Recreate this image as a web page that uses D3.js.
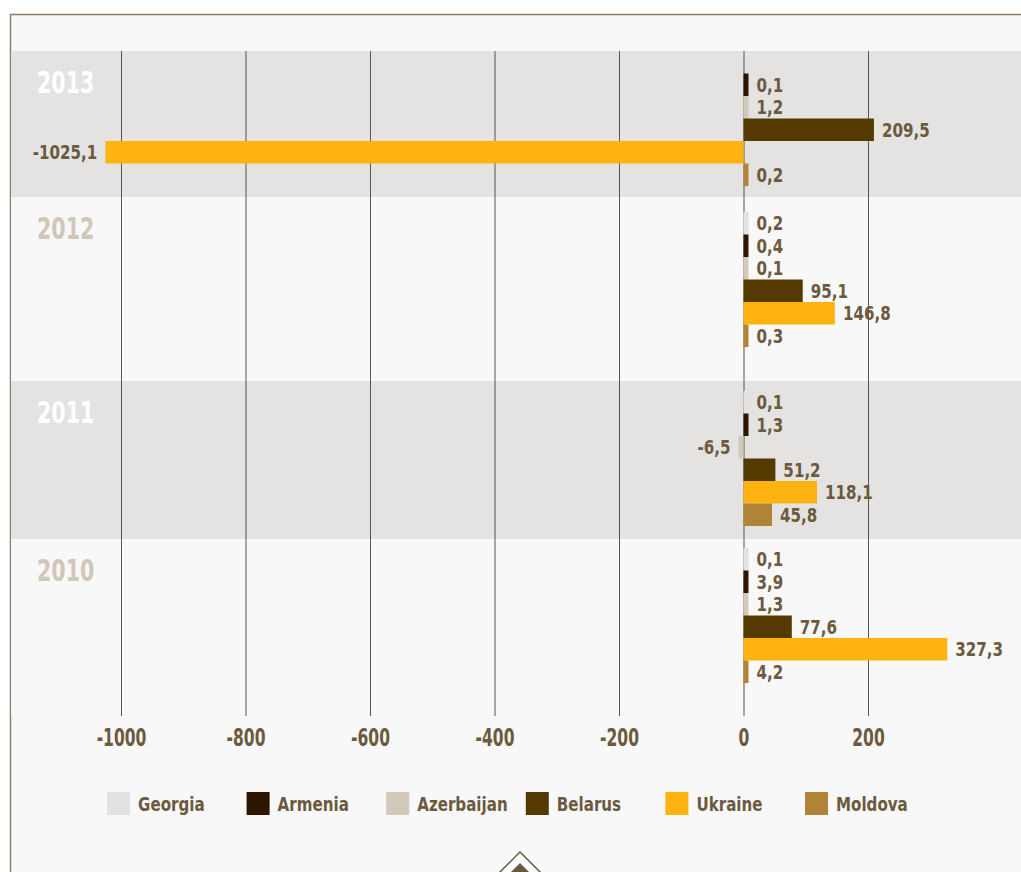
<!DOCTYPE html>
<html>
<head>
<meta charset="utf-8">
<script src="https://cdn.jsdelivr.net/npm/d3@7"></script>
<style>
  html, body { margin: 0; padding: 0; background: #ffffff; }
  svg { display: block; }
  .lbl { font-family: "DejaVu Sans Condensed", "Liberation Sans Narrow", sans-serif; font-weight: bold; font-stretch: condensed; }
</style>
</head>
<body>
<div id="chart"></div>
<script>
// data
var years = ["2013", "2012", "2011", "2010"];
var countries = ["Georgia", "Armenia", "Azerbaijan", "Belarus", "Ukraine", "Moldova"];
var colors = ["#e3e2e0", "#2e1500", "#d3c9bb", "#553a00", "#ffb311", "#b08436"];
// one array per country, in the order of years
var georgia    = [null, 0.2, 0.1, 0.1];
var armenia    = [0.1, 0.4, 1.3, 3.9];
var azerbaijan = [1.2, 0.1, -6.5, 1.3];
var belarus    = [209.5, 95.1, 51.2, 77.6];
var ukraine    = [-1025.1, 146.8, 118.1, 327.3];
var moldova    = [0.2, 0.3, 45.8, 4.2];
var tickValues = [-1000, -800, -600, -400, -200, 0, 200];

var series = [georgia, armenia, azerbaijan, belarus, ukraine, moldova];

// layout
var W = 1021, H = 872;
var bandEdges = [51, 197, 381, 539, 716];   // background stripes per year
var groupTops = [51, 212, 391, 548];        // first bar slot of each year
var groupHeight = 135;
var textColor = "#6b5a3e";

var svg = d3.select("#chart").append("svg")
    .attr("width", W)
    .attr("height", H);

// frame
svg.append("rect")
    .attr("x", 10).attr("y", 14)
    .attr("width", W - 10).attr("height", H - 14)
    .attr("fill", "#f8f8f8");
svg.append("path")
    .attr("d", "M10.5," + H + "V14.5H" + W)
    .attr("fill", "none")
    .attr("stroke", "#8c7f68")
    .attr("stroke-width", 1.5);

var x = d3.scaleLinear().domain([-1000, 200]).range([121, 868]);
var yIn = d3.scaleBand().domain(countries).range([0, groupHeight]);

// squeezed text: the original face is a narrow grotesque
var label = function(sel, size, sx) {
    return sel.append("text")
        .attr("class", "lbl")
        .attr("transform", "scale(" + sx + ",1)")
        .style("font-size", size + "px");
};

// stripes
svg.append("g").selectAll("rect")
    .data(years)
    .join("rect")
    .attr("x", 11)
    .attr("y", function(d, i) { return bandEdges[i]; })
    .attr("width", W - 11)
    .attr("height", function(d, i) { return bandEdges[i + 1] - bandEdges[i]; })
    .attr("fill", function(d, i) { return i % 2 == 0 ? "#e4e3e1" : "#f8f8f8"; });

// grid lines + tick labels
var axis = d3.axisBottom(x)
    .tickValues(tickValues)
    .tickSize(bandEdges[4] - bandEdges[0])
    .tickPadding(13)
    .tickFormat(function(d) { return String(d); });
var gAxis = svg.append("g")
    .attr("transform", "translate(0," + bandEdges[0] + ")")
    .call(axis);
gAxis.select(".domain").remove();
gAxis.selectAll(".tick line").attr("stroke", "#555").attr("stroke-width", 1);
gAxis.selectAll(".tick text")
    .attr("class", "lbl")
    .attr("fill", textColor)
    .attr("transform", "scale(0.72,1)")
    .style("font-size", "24px");

// year labels
var yl = svg.append("g").selectAll("g")
    .data(years)
    .join("g")
    .attr("transform", function(d, i) { return "translate(37," + (bandEdges[i] + 42) + ")"; });
label(yl, 31, 0.74)
    .attr("fill", function(d, i) { return i % 2 == 0 ? "#ffffff" : "#d0c7b8"; })
    .text(function(d) { return d; });

// bars
var fmt = function(v) { return d3.format(".1f")(v).replace(".", ",").replace("−", "-"); };
var minW = 5;
var points = [];
years.forEach(function(yr, yi) {
    countries.forEach(function(c, ci) {
        var v = series[ci][yi];
        if (v == null) return;
        points.push({year: yr, yi: yi, country: c, ci: ci, value: v});
    });
});
var barW = function(d) { return Math.max(Math.abs(x(d.value) - x(0)), minW); };

var gBars = svg.append("g");
gBars.selectAll("rect")
    .data(points)
    .join("rect")
    .attr("x", function(d) { return d.value < 0 ? x(0) - barW(d) : x(0); })
    .attr("y", function(d) { return groupTops[d.yi] + yIn(d.country); })
    .attr("width", barW)
    .attr("height", yIn.bandwidth())
    .attr("fill", function(d) { return colors[d.ci]; });

var vl = gBars.selectAll("g")
    .data(points)
    .join("g")
    .attr("transform", function(d) {
        var tx = d.value < 0 ? x(0) - barW(d) - 8 : x(0) + barW(d) + 8;
        var ty = groupTops[d.yi] + yIn(d.country) + yIn.bandwidth() / 2;
        return "translate(" + tx + "," + ty + ")";
    });
label(vl, 20, 0.84)
    .attr("dy", "0.36em")
    .attr("text-anchor", function(d) { return d.value < 0 ? "end" : "start"; })
    .attr("fill", textColor)
    .text(function(d) { return fmt(d.value); });

// legend
var legend = svg.append("g").selectAll("g")
    .data(countries)
    .join("g")
    .attr("transform", function(d, i) { return "translate(" + (107 + i * 139.6) + ",792)"; });
legend.append("rect")
    .attr("width", 23).attr("height", 23)
    .attr("fill", function(d, i) { return colors[i]; });
var lt = legend.append("g").attr("transform", "translate(31,11.5)");
label(lt, 20, 0.84)
    .attr("dy", "0.36em")
    .attr("fill", textColor)
    .text(function(d) { return d; });

// little "back to top" marker at the bottom
var mark = svg.append("g").attr("transform", "translate(520,873)");
mark.append("path")
    .attr("d", "M0,-21L21,0L0,21L-21,0Z")
    .attr("fill", "#ffffff")
    .attr("stroke", textColor)
    .attr("stroke-width", 1.5);
mark.append("path")
    .attr("d", "M0,-10L10,0L0,10L-10,0Z")
    .attr("fill", textColor);
</script>
</body>
</html>
